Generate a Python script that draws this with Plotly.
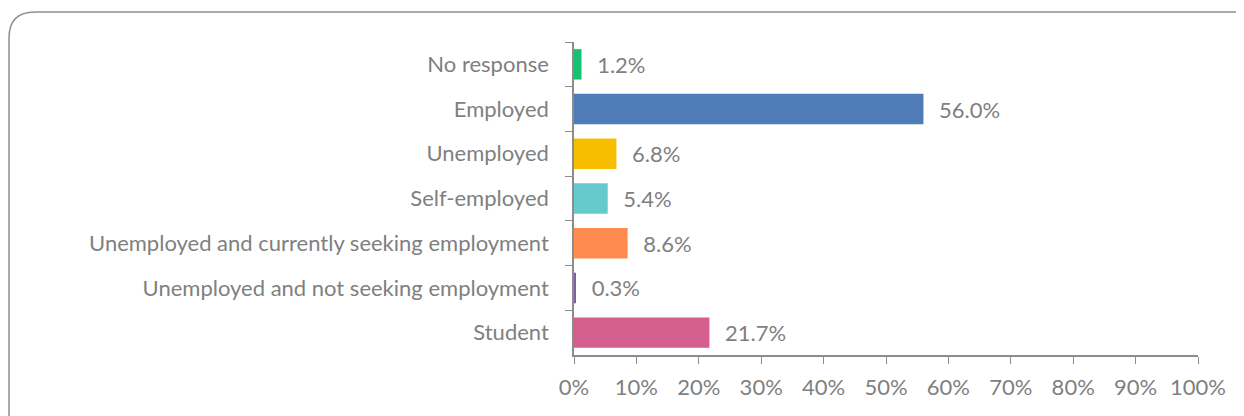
import plotly.graph_objects as go

categories = ["No response", "Employed", "Unemployed", "Self-employed",
              "Unemployed and currently seeking employment",
              "Unemployed and not seeking employment", "Student"]
values = [1.2, 56.0, 6.8, 5.4, 8.6, 0.3, 21.7]
colors = ["#16C172", "#4F7CB6", "#F7BE00", "#66CACC", "#FF8B50", "#7F60A8", "#D45F8F"]
tick_vals = [0, 10, 20, 30, 40, 50, 60, 70, 80, 90, 100]
tick_text = [f"{v}%" for v in tick_vals]

OFF = 8  # page body margin
W, H = 1244 - OFF, 416 - OFF
L, R, T, B = 574 - OFF, 1198 - OFF, 42 - OFF, 355 - OFF

fig = go.Figure(go.Bar(
    y=categories, x=values, orientation="h",
    marker=dict(color=colors, line=dict(width=0)),
    text=[f"  \u200a{v:.1f}%" for v in values],
    textposition="outside", cliponaxis=False,
    textfont=dict(size=22, color="#7F7F7F"),
    width=0.68,
))

def px(x):
    return (x - OFF - L) / (R - L)

def py(y):
    return (B - (y - OFF)) / (B - T)

x0, x1, y0, y1, r = 9, 1262, 12, 440, 26
path = (f"M {px(x0)},{py(y1)} L {px(x0)},{py(y0 + r)} "
        f"Q {px(x0)},{py(y0)} {px(x0 + r)},{py(y0)} "
        f"L {px(x1 - r)},{py(y0)} Q {px(x1)},{py(y0)} {px(x1)},{py(y0 + r)} "
        f"L {px(x1)},{py(y1)}")

fig.update_layout(
    width=W, height=H,
    margin=dict(l=L, r=W - R, t=T, b=H - B, pad=0),
    paper_bgcolor="white", plot_bgcolor="white",
    font=dict(family="Lato, Open Sans, sans-serif", size=22, color="#7F7F7F"),
    showlegend=False,
    xaxis=dict(range=[0, 100], tickvals=tick_vals, ticktext=tick_text,
               showgrid=False, zeroline=False, showline=True, linecolor="#8C8C8C",
               linewidth=1.5, ticks="outside", ticklen=7, tickcolor="#8C8C8C",
               ticklabelstandoff=5,
               tickfont=dict(size=22, color="#7F7F7F")),
    yaxis=dict(autorange="reversed", showgrid=False, zeroline=False,
               showline=True, linecolor="#8C8C8C", linewidth=1.5,
               ticks="outside", ticklen=7, tickcolor="#8C8C8C",
               tickson="boundaries", ticklabelstandoff=19,
               tickfont=dict(size=22, color="#7F7F7F")),
    shapes=[dict(type="path", xref="paper", yref="paper", path=path,
                 line=dict(color="#8F8F8F", width=1.5), layer="below")],
)

fig.write_html("out.html")
